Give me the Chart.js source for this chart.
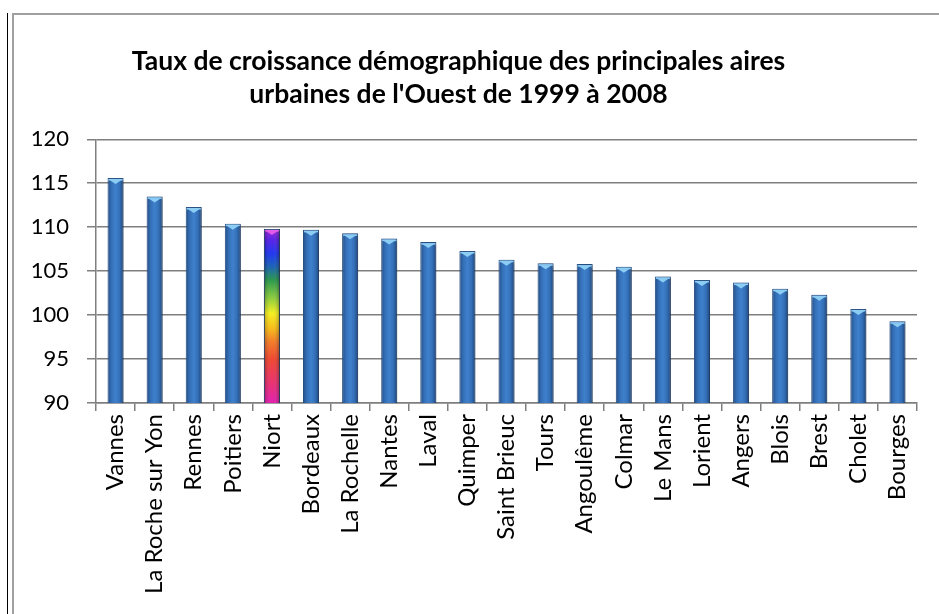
<!DOCTYPE html>
<html>
<head>
<meta charset="utf-8">
<script src="https://cdn.jsdelivr.net/npm/chart.js@4"></script>
<style>
  body { margin: 0; background: #fff; }
  #wrap { width: 939px; height: 614px; }
</style>
</head>
<body>
<div id="wrap"><canvas id="chart"></canvas></div>
<script>
// data
const titleLines = ["Taux de croissance démographique des principales aires", "urbaines de l'Ouest de 1999 à 2008"];
const villes = ["Vannes", "La Roche sur Yon", "Rennes", "Poitiers", "Niort", "Bordeaux", "La Rochelle", "Nantes", "Laval", "Quimper", "Saint Brieuc", "Tours", "Angoulême", "Colmar", "Le Mans", "Lorient", "Angers", "Blois", "Brest", "Cholet", "Bourges"];
const taux = [115.6, 113.5, 112.3, 110.4, 109.8, 109.7, 109.3, 108.7, 108.3, 107.3, 106.3, 105.9, 105.8, 105.5, 104.4, 104.0, 103.7, 103.0, 102.3, 100.7, 99.3];
const yMin = 90, yMax = 120, yStep = 5;
const highlight = "Niort";

// rainbow on the highlighted bar, stops given in axis values
const rainbow = [
  [110, "#a01ad0"], [108.5, "#4a12e6"], [107, "#1028f0"], [105.5, "#0a58b0"],
  [104, "#1a9040"], [102, "#80c830"], [100.2, "#f4ee10"], [98.5, "#f6b808"],
  [97, "#f27418"], [95, "#ee3a22"], [92.5, "#e82460"], [90, "#e010a8"]
];

function barColor(ctx) {
  const chart = ctx.chart;
  const area = chart.chartArea;
  if (!area) return "#3a76c0";
  const x = chart.scales.x, y = chart.scales.y;
  if (villes[ctx.dataIndex] === highlight) {
    const top = y.getPixelForValue(rainbow[0][0]);
    const bot = y.getPixelForValue(rainbow[rainbow.length - 1][0]);
    const g = chart.ctx.createLinearGradient(0, top, 0, bot);
    rainbow.forEach(s => {
      const p = (y.getPixelForValue(s[0]) - top) / (bot - top);
      g.addColorStop(Math.min(1, Math.max(0, p)), s[1]);
    });
    return g;
  }
  const cx = x.getPixelForValue(ctx.dataIndex);
  const g = chart.ctx.createLinearGradient(cx - 8, 0, cx + 8, 0);
  g.addColorStop(0, "#234d86");
  g.addColorStop(0.25, "#3470b8");
  g.addColorStop(0.5, "#3f80cc");
  g.addColorStop(0.75, "#3470b8");
  g.addColorStop(1, "#1f4679");
  return g;
}

const framePlugin = {
  id: "frame",
  beforeDraw(chart) {
    const c = chart.ctx;
    c.save();
    c.fillStyle = "#fff";
    c.fillRect(0, 0, chart.width, chart.height);
    c.fillStyle = "#000";
    c.fillRect(7, 13, 1, chart.height - 13);
    c.fillStyle = "#a0a0a0";
    c.fillRect(12, 13, 2, chart.height - 13);
    c.fillRect(12, 13, chart.width - 12, 2);
    c.restore();
  }
};

const barLook = {
  id: "barLook",
  beforeDatasetsDraw(chart) {
    const c = chart.ctx;
    c.save();
    c.shadowColor = "rgba(0,0,0,0.35)";
    c.shadowBlur = 4;
    c.shadowOffsetX = 2;
    c.shadowOffsetY = 1;
  },
  afterDatasetsDraw(chart) {
    const c = chart.ctx;
    const area = chart.chartArea;
    c.restore();
    c.save();
    c.beginPath();
    c.rect(area.left, area.top, area.right - area.left, area.bottom - area.top);
    c.clip();
    chart.getDatasetMeta(0).data.forEach((bar, i) => {
      const w = bar.width, l = bar.x - w / 2, r = bar.x + w / 2;
      const t = bar.y, b = Math.min(bar.base, area.bottom);
      if (villes[i] === highlight) {
        const g = c.createLinearGradient(l, 0, r, 0);
        g.addColorStop(0, "rgba(0,0,0,0.28)");
        g.addColorStop(0.4, "rgba(255,255,255,0.08)");
        g.addColorStop(0.6, "rgba(255,255,255,0.08)");
        g.addColorStop(1, "rgba(0,0,0,0.32)");
        c.fillStyle = g;
        c.fillRect(l, t, w, b - t);
      }
      // light bevel on top
      c.fillStyle = villes[i] === highlight ? "#e25ae8" : "#8ccdf4";
      c.fillRect(l + 1, t + 1, w - 2, 1.5);
      c.beginPath();
      c.moveTo(l + 2, t + 2);
      c.lineTo(r - 2, t + 2);
      c.lineTo(bar.x, t + 6);
      c.closePath();
      c.fill();
    });
    c.restore();
  }
};

new Chart(document.getElementById("chart"), {
  type: "bar",
  data: {
    labels: villes,
    datasets: [{
      data: taux,
      backgroundColor: barColor,
      borderColor: "#2a5288",
      borderWidth: 1,
      borderSkipped: "bottom",
      categoryPercentage: 0.41,
      barPercentage: 1
    }]
  },
  options: {
    responsive: true,
    maintainAspectRatio: false,
    animation: false,
    layout: { padding: { left: 0, right: 22, top: 0, bottom: 0 } },
    plugins: {
      legend: { display: false },
      tooltip: { enabled: false },
      title: {
        display: true,
        text: titleLines,
        color: "#000",
        font: { family: "Lato", size: 26.5, weight: "bold", lineHeight: 1.25 },
        padding: { top: 45, bottom: 28 }
      }
    },
    scales: {
      x: {
        grid: { display: true, drawOnChartArea: false, drawTicks: true, tickLength: 8, color: "#7f7f7f", lineWidth: 1.5, offset: true },
        border: { display: true, color: "#7f7f7f", width: 1.5 },
        ticks: {
          color: "#000",
          font: { family: "Lato", size: 24 },
          maxRotation: 90,
          minRotation: 90,
          autoSkip: false,
          padding: 3
        },
        afterFit(scale) { scale.height = 211; }
      },
      y: {
        min: yMin,
        max: yMax,
        grid: { color: "#7f7f7f", lineWidth: 1.5, tickLength: 9, drawTicks: true },
        border: { display: true, color: "#7f7f7f", width: 1.5 },
        ticks: {
          stepSize: yStep,
          color: "#000",
          font: { family: "Lato", size: 22 },
          padding: 18,
          crossAlign: "near"
        },
        afterFit(scale) { scale.width = 96; }
      }
    }
  },
  plugins: [framePlugin, barLook]
});
</script>
</body>
</html>
